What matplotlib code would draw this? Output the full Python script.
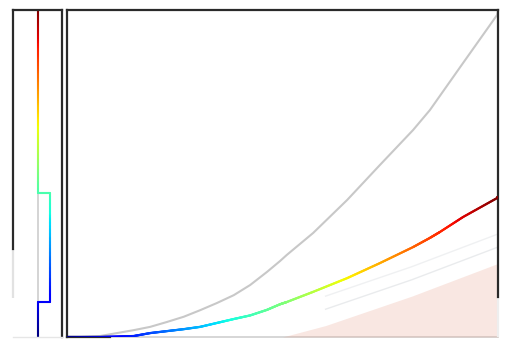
import numpy as np
import matplotlib
matplotlib.use("Agg")
import matplotlib.pyplot as plt
from matplotlib.collections import LineCollection

# Main panel: reference curve (gray) and tracked curve (coloured by time)
t_ref = [0, 3.0, 7.7, 11.6, 15.5, 19.3, 23.2, 27.1, 30.9, 34.8, 38.7, 42.5, 46.4, 49.4,
         51.0, 57.1, 65.0, 72.6, 80.3, 84.2, 91.9, 99.8, 100]
v_ref = [0, 0, 0.003, 0.012, 0.021, 0.031, 0.046, 0.062, 0.082, 0.104, 0.128, 0.159, 0.199, 0.232,
         0.251, 0.318, 0.419, 0.526, 0.633, 0.694, 0.838, 0.985, 1.0]

t_trk = [0, 3.0, 7.7, 15.5, 19.3, 23.2, 27.1, 30.9, 34.8, 38.7, 42.5, 46.4, 49.4, 51.0,
         57.1, 65.0, 72.6, 80.3, 84.2, 86.5, 91.9, 99.8, 100]
v_trk = [0, 0, 0, 0.003, 0.012, 0.018, 0.024, 0.031, 0.043, 0.055, 0.066, 0.083, 0.100, 0.107,
         0.138, 0.180, 0.226, 0.275, 0.303, 0.321, 0.367, 0.425, 0.428]

# Side panel: current value band (lower / upper) drawn as a stepped path
band_low = 0.107
band_high = 0.44
band_x = [0.5, 0.755]

# Faint ghost of an earlier frame in the lower right
ghost_t = [50, 60, 70, 80, 90, 100]
ghost_v = [0.0, 0.035, 0.08, 0.125, 0.175, 0.225]

cmap = plt.get_cmap("jet")


def colored_path(xs, ys, cvals, n=40):
    """Subdivide a polyline so every short piece can take its own colour."""
    pts_x, pts_y, cs = [], [], []
    for i in range(len(xs) - 1):
        s = np.linspace(0, 1, n, endpoint=False)
        pts_x.extend(xs[i] + (xs[i + 1] - xs[i]) * s)
        pts_y.extend(ys[i] + (ys[i + 1] - ys[i]) * s)
        cs.extend(cvals[i] + (cvals[i + 1] - cvals[i]) * s)
    pts_x.append(xs[-1]); pts_y.append(ys[-1]); cs.append(cvals[-1])
    pts = np.column_stack([pts_x, pts_y])
    segs = np.stack([pts[:-1], pts[1:]], axis=1)
    cmid = (np.array(cs[:-1]) + np.array(cs[1:])) / 2
    return segs, cmid


W, H = 507, 340
fig = plt.figure(figsize=(W / 100, H / 100), dpi=100)
fig.patch.set_facecolor("white")

bottom = 3 / H
height = 327 / H
ax_side = fig.add_axes([13 / W, bottom, 49 / W, height])
ax_main = fig.add_axes([67 / W, bottom, 431 / W, height])

spine_col = "#2a2a2a"
for ax in (ax_side, ax_main):
    ax.set_xticks([]); ax.set_yticks([])
    for sp in ax.spines.values():
        sp.set_color(spine_col)
        sp.set_linewidth(1.6)
    ax.set_ylim(0, 1)

# ---- side panel
ax_side.set_xlim(0, 1)
ax_side.spines["left"].set_bounds(0.27, 1)
ax_side.spines["bottom"].set_color("#e6e6e6")
ax_side.spines["bottom"].set_linewidth(1.0)
ax_side.plot([0, 0], [0.12, 0.27], color="#e2e2e2", lw=1.6, transform=ax_side.transAxes,
             clip_on=False, solid_capstyle="butt")
ax_side.plot([0.5, 0.5], [0, 1], color="#d4d4d4", lw=1.4, zorder=1)
sx = [band_x[0], band_x[0], band_x[1], band_x[1], band_x[0], band_x[0]]
sy = [1.0, band_high, band_high, band_low, band_low, 0.0]
segs, cv = colored_path(sx, sy, sy, n=80)
lc = LineCollection(segs, colors=cmap(cv), linewidths=1.5, capstyle="round", zorder=2)
ax_side.add_collection(lc)

# ---- main panel
ax_main.set_xlim(0, 100)
ax_main.spines["right"].set_bounds(0.122, 1)
ax_main.spines["bottom"].set_bounds(0, 10)
ax_main.plot([10, 100], [0, 0], color="#cfcfcf", lw=1.2, clip_on=False, zorder=0)
ax_main.plot([1, 1], [0.0, 0.122], color="#eeeeee", lw=1.6, transform=ax_main.transAxes,
             clip_on=False, solid_capstyle="butt")

gx = np.array(ghost_t); gy = np.array(ghost_v)
ax_main.fill_between(gx, 0, gy, color="#e8a08c", alpha=0.25, lw=0, zorder=0)
ax_main.plot(gx[1:], gy[1:] + 0.05, color="#b8bec4", lw=1.0, alpha=0.3, zorder=0)
ax_main.plot(gx[1:], gy[1:] + 0.09, color="#b8bec4", lw=1.0, alpha=0.22, zorder=0)

ax_main.plot(t_ref, v_ref, color="#c8c8c8", lw=1.5, zorder=2)
segs, cv = colored_path(t_trk, v_trk, np.array(t_trk) / 100.0, n=30)
lc = LineCollection(segs, colors=cmap(cv), linewidths=1.6, capstyle="round", zorder=3)
ax_main.add_collection(lc)

fig.savefig("out.png", dpi=100, facecolor="white")
